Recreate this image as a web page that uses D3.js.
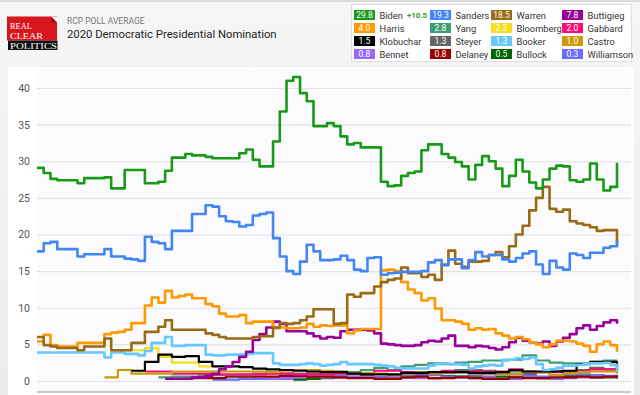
<!DOCTYPE html>
<html>
<head>
<meta charset="utf-8">
<script src="https://cdn.jsdelivr.net/npm/d3@7"></script>
<style>
	body { margin: 0; width: 640px; height: 395px; overflow: hidden; background: #e9e9e9; font-family: Roboto, Arial, sans-serif; }
	svg { display: block; }
</style>
</head>
<body>
<svg id="chart" width="640" height="395"></svg>
<script>
'use strict'

// RCP average, one value every 4 days from 15 Dec 2018 (majors)
var biden = [29.1,28.4,27.6,27.4,27.4,27.4,27.0,27.7,27.7,27.7,
	27.8,26.3,26.3,28.8,28.8,28.8,27.0,27.0,27.2,28.7,
	30.5,30.5,31.0,30.8,30.8,30.6,30.4,30.4,30.4,30.4,
	31.1,31.6,30.2,29.3,29.3,32.7,36.8,41.0,41.5,39.3,
	38.2,34.8,34.8,35.2,34.8,33.4,32.3,32.5,31.9,31.9,
	31.9,27.2,26.6,26.7,28.0,28.4,28.6,31.5,32.3,32.3,
	31.0,30.5,29.9,29.3,27.5,29.5,30.7,30.0,29.0,26.6,
	28.0,30.2,28.6,27.1,26.3,27.5,29.0,29.4,29.3,27.4,
	27.2,27.5,29.7,27.5,26.0,26.5,29.8];
var sanders = [17.7,18.8,19.0,18.0,18.0,18.0,17.0,17.3,17.3,17.3,
	18.0,17.0,17.0,16.7,16.6,16.4,19.7,19.0,18.8,18.0,
	20.5,20.5,20.5,22.8,22.8,24.0,23.8,22.5,21.8,21.7,
	21.1,21.3,22.6,22.8,23.0,19.5,17.0,15.0,14.6,16.3,
	18.6,17.7,16.5,16.5,16.6,17.1,16.5,15.2,15.0,16.8,
	16.9,14.5,14.7,14.8,14.9,14.9,14.9,15.0,16.2,16.5,
	15.8,16.6,16.6,15.4,16.5,17.6,17.0,17.2,17.2,16.6,
	16.3,16.8,17.4,17.7,15.9,14.6,16.4,15.5,15.2,17.4,
	17.2,16.8,17.5,17.5,18.2,18.4,19.3];
var warren = [6.0,4.9,4.7,4.5,4.5,4.5,4.2,4.7,4.7,4.7,
	5.8,4.2,4.2,4.2,5.2,5.2,6.7,6.7,7.4,8.3,
	7.0,7.0,7.0,7.0,7.0,6.5,6.3,6.0,5.8,5.8,
	5.8,5.8,6.0,6.1,6.1,7.3,7.9,7.8,7.9,8.3,
	8.8,9.8,9.8,9.8,7.8,7.9,11.8,11.5,12.0,12.0,
	12.9,13.5,13.8,14.0,15.5,14.7,14.7,14.2,14.5,13.8,
	15.9,17.8,16.0,15.6,16.3,16.3,16.4,17.2,17.6,16.9,
	18.4,20.0,21.2,23.3,25.0,26.5,23.5,23.1,23.4,21.8,
	21.5,21.3,21.0,20.5,20.6,20.6,18.5];
var harris = [5.4,6.3,4.9,4.7,4.7,4.7,5.2,5.2,5.2,5.2,
	6.4,6.6,6.7,7.0,7.9,7.9,10.3,11.4,10.7,12.3,
	11.4,11.6,11.8,11.3,11.3,10.5,10.2,9.2,8.8,8.8,
	9.0,7.9,8.1,8.1,8.1,7.2,7.3,7.2,7.2,7.3,
	7.8,7.4,7.6,7.5,7.6,7.6,6.5,6.9,7.1,7.1,
	7.1,15.1,15.2,15.0,13.5,12.5,12.0,11.0,11.3,9.9,
	8.3,8.3,8.1,7.8,7.0,7.2,7.0,7.1,6.5,6.2,
	5.8,6.0,5.7,5.3,5.0,4.6,5.0,5.5,5.5,5.4,
	5.1,4.8,4.0,5.0,5.4,4.9,4.0];
var booker = [3.9,3.9,3.9,3.9,3.9,3.9,3.9,3.9,3.9,3.9,
	3.2,3.9,3.9,3.7,3.7,3.5,4.1,5.2,5.2,6.0,
	4.8,4.8,4.9,4.9,4.9,3.6,3.5,3.5,3.6,3.6,
	3.6,3.7,3.8,3.8,3.8,2.4,2.2,2.2,2.2,2.3,
	2.4,2.3,2.1,2.2,2.3,2.6,2.3,2.3,2.3,2.3,
	2.2,2.1,2.0,1.8,1.7,1.7,1.7,1.7,2.1,2.3,
	2.4,2.3,2.3,2.2,1.7,2.0,2.1,2.2,2.1,2.9,
	2.9,3.1,3.0,3.2,2.3,1.5,1.6,1.8,2.1,2.1,
	2.2,2.3,2.4,2.4,2.5,2.2,1.3];
// starts at day 76
var buttigieg = [0.3,0.3,0.3,0.3,0.5,0.5,0.7,1.0,1.6,2.0,
	2.6,3.3,4.0,5.6,6.4,7.3,8.1,7.8,6.8,6.8,
	6.8,6.5,6.1,5.8,6.0,5.9,6.8,7.0,7.0,7.0,
	6.9,6.5,5.1,5.0,4.9,4.8,4.8,4.9,5.3,5.5,
	5.4,5.8,6.2,4.8,4.8,4.6,4.8,4.7,4.5,4.3,
	4.6,5.3,5.9,5.5,5.3,5.1,5.4,4.8,5.4,5.9,
	6.4,7.2,7.6,7.0,7.5,8.0,8.3,7.8];

// minors, one value every 8 days
var klobuchar = [1.4,2.6,3.6,3.3,3.4,2.6,2.0,2.0,1.9,1.7,
	1.6,1.5,1.4,1.3,1.2,1.2,1.0,0.9,0.9,0.9,
	1.1,1.1,1.2,1.2,1.2,1.1,1.1,1.2,1.5,1.3,
	1.3,1.3,1.4,2.3,2.6,2.6,1.5];
var castro = [0.5,1.5,1.0,1.0,1.0,1.3,1.3,1.3,1.3,1.3,
	1.3,1.3,1.2,1.4,1.5,1.5,1.4,1.3,1.0,1.1,
	1.0,0.8,1.0,1.2,1.0,1.1,1.2,1.0,1.0,1.0,
	0.9,1.3,1.2,0.8,1.0,1.2,1.3,1.3,1.0];
var bloomberg = [4.2,4.5,3.3,2.5,2.5,2.0,2.0,
	null,null,null,null,null,null,null,null,null,null,
	null,null,null,null,null,null,null,null,null,null,
	null,null,null,null,null,null,null,null,
	2.5,2.3];
var gabbard = [1.3,1.3,1.0,1.0,1.0,0.9,0.9,0.9,0.9,1.0,
	1.0,0.9,0.9,0.9,1.0,1.0,1.0,1.4,1.4,1.2,
	1.2,1.0,1.4,1.2,1.3,1.2,1.3,1.6,1.3,1.2,
	1.2,1.3,1.3,1.6,1.6,2.0];
var yang = [0.5,0.6,0.6,0.8,0.8,0.8,0.8,1.0,1.0,1.0,
	1.0,1.0,1.2,1.3,1.2,1.5,1.8,1.5,2.0,2.2,
	2.4,2.3,2.5,2.6,2.8,2.8,2.9,3.5,2.8,2.5,
	2.4,2.4,2.6,2.8,2.8];
var steyer = [0.8,1.0,1.0,1.2,1.3,1.5,1.5,1.4,1.2,1.3,1.0,1.2,1.4,1.3,1.5,1.8,1.6,1.3];
var delaney = [0.4,0.4,0.4,0.6,0.6,0.6,0.6,0.7,0.7,0.6,
	0.6,0.5,0.4,0.4,0.3,0.3,0.5,0.6,0.4,0.4,
	0.5,0.4,0.3,0.3,0.5,0.4,0.4,0.5,0.5,0.6,
	0.5,0.6,0.8];
var bennet = [0.3,0.4,0.5,0.6,0.5,0.5,0.6,0.6,0.5,0.4,
	0.5,0.4,0.4,0.5,0.5,0.4,0.5,0.3,0.3,0.5,
	0.4,0.3,0.4,0.5,0.6,0.6,0.8];
var bullock = [0.2,0.3,0.4,0.5,0.5,0.6,0.5,0.4,0.5,0.5,
	0.4,0.6,0.6,0.5,0.5,0.6,0.5,0.5,0.4,0.4,
	0.6,0.6,0.5,0.5,0.5];
var williamson = [0.2,0.2,0.3,0.3,0.3,0.3,0.4,0.5,0.6,0.7,
	0.6,0.6,0.5,0.5,0.7,0.8,0.8,0.7,0.6,0.8,
	0.9,1.0,0.9,0.8,0.6,0.6,0.8,0.9,0.8,0.7,0.3];

var legendNames = ["Biden","Sanders","Warren","Buttigieg","Harris","Yang","Bloomberg","Gabbard",
	"Klobuchar","Steyer","Booker","Castro","Bennet","Delaney","Bullock","Williamson"];
var legendValues = ["29.8","19.3","18.5","7.8","4.0","2.8","2.3","2.0","1.5","1.3","1.3","1.0","0.8","0.8","0.5","0.3"];
var spread = "+10.5";
var yTicks = [0,5,10,15,20,25,30,35,40];

var colors = {
	Biden: "#179b17", Sanders: "#4285f4", Warren: "#9a6a12", Buttigieg: "#990099",
	Harris: "#ff9900", Yang: "#3d9f73", Bloomberg: "#f7dc1b", Gabbard: "#ff0a78",
	Klobuchar: "#000000", Steyer: "#666666", Booker: "#66c8ff", Castro: "#cc9a06",
	Bennet: "#9966ff", Delaney: "#990000", Bullock: "#006600", Williamson: "#6a6cff"
};

// name, values, first day, days between values  (drawn bottom-up, Biden last)
var series = [
	["Williamson", williamson, 104, 8], ["Bullock", bullock, 152, 8], ["Bennet", bennet, 136, 8],
	["Delaney", delaney, 88, 8], ["Steyer", steyer, 208, 8], ["Yang", yang, 72, 8],
	["Gabbard", gabbard, 64, 8], ["Castro", castro, 40, 8], ["Bloomberg", bloomberg, 56, 8],
	["Klobuchar", klobuchar, 56, 8], ["Booker", booker, 0, 4], ["Buttigieg", buttigieg, 76, 4],
	["Harris", harris, 0, 4], ["Warren", warren, 0, 4], ["Sanders", sanders, 0, 4], ["Biden", biden, 0, 4]
];

var startDate = new Date(Date.UTC(2018, 11, 15));
var endDate = d3.utcDay.offset(startDate, 344);

var svg = d3.select("#chart");

// header strip
var grad = svg.append("defs").append("linearGradient").attr("id", "hdr").attr("x1", 0).attr("y1", 0).attr("x2", 0).attr("y2", 1);
grad.append("stop").attr("offset", "0%").attr("stop-color", "#f6f6f6");
grad.append("stop").attr("offset", "100%").attr("stop-color", "#ebebeb");
svg.append("rect").attr("x", 0).attr("y", 0).attr("width", 640).attr("height", 395).attr("fill", "url(#hdr)");
svg.append("rect").attr("x", 0).attr("y", 0).attr("width", 640).attr("height", 2).attr("fill", "#dcdcdc");

// logo
var logo = svg.append("g").attr("transform", "translate(7,16.5)");
logo.append("rect").attr("width", 50).attr("height", 24).attr("fill", "#d8161d");
logo.append("rect").attr("x", 1).attr("y", 24).attr("width", 49.5).attr("height", 9.5).attr("fill", "#111");
logo.append("path").attr("d", "M44,0 L50,0 L50,6 Z").attr("fill", "#f2f2f2");
logo.append("path").attr("d", "M44,0 L50,6 L44,6 Z").attr("fill", "#a30d12");
logo.selectAll("text.lg")
	.data([["REAL", 12.5, 22], ["CLEAR", 22, 33], ["POLITICS", 32, 47]])
	.enter().append("text")
	.attr("x", 3)
	.attr("y", function(d){ return d[1]; })
	.attr("font-family", "'Liberation Serif', 'DejaVu Serif', serif")
	.attr("font-size", 8.6)
	.attr("textLength", function(d){ return d[2]; })
	.attr("lengthAdjust", "spacingAndGlyphs")
	.attr("fill", "#fff")
	.text(function(d){ return d[0]; });

svg.append("text").attr("x", 67).attr("y", 24)
	.attr("font-size", 8.5).attr("fill", "#777")
	.text("RCP POLL AVERAGE");
svg.append("text").attr("x", 67).attr("y", 37.5)
	.attr("font-size", 11.3).attr("fill", "#222")
	.text("2020 Democratic Presidential Nomination");

// legend box
svg.append("rect").attr("x", 351.5).attr("y", 4.5).attr("width", 280).attr("height", 57)
	.attr("fill", "#fff").attr("stroke", "#dedede");

var colX = [354, 430, 491, 562];
var rowY = [10, 23, 36, 49];
var items = svg.selectAll("g.leg")
	.data(legendNames)
	.enter().append("g")
	.attr("class", "leg")
	.attr("transform", function(d, i){ return "translate(" + colX[i % 4] + "," + rowY[Math.floor(i / 4)] + ")"; });
items.append("rect").attr("width", 21).attr("height", 10)
	.attr("fill", function(d){ return colors[d]; });
items.append("text").attr("x", 10.5).attr("y", 8.2)
	.attr("text-anchor", "middle").attr("font-size", 8.5).attr("fill", "#fff")
	.text(function(d, i){ return legendValues[i]; });
items.append("text").attr("x", 25.5).attr("y", 8.6)
	.attr("font-size", 9.3).attr("fill", "#333")
	.text(function(d){ return d; });
svg.append("text").attr("x", 407).attr("y", 18.3)
	.attr("font-size", 7.8).attr("font-weight", "bold").attr("fill", "#2d9a2d")
	.text(spread);

// chart panel
svg.append("rect").attr("x", 8).attr("y", 67).attr("width", 626).attr("height", 330).attr("fill", "#fff");
svg.append("rect").attr("x", 37).attr("y", 70).attr("width", 594).attr("height", 322).attr("fill", "#fbfbfe");

var x = d3.scaleUtc().domain([startDate, endDate]).range([37, 617]);
var y = d3.scaleLinear().domain([0, 40]).range([381, 88]);

var grid = svg.append("g")
	.attr("transform", "translate(37,0)")
	.call(d3.axisLeft(y).tickValues(yTicks).tickSize(-594).tickFormat(""));
grid.select(".domain").remove();
grid.selectAll("line").attr("stroke", "#e1e1e1").attr("stroke-width", 1.2);

var yAxis = svg.append("g")
	.attr("transform", "translate(37,0)")
	.call(d3.axisLeft(y).tickValues(yTicks).tickSize(0).tickPadding(7));
yAxis.select(".domain").remove();
yAxis.selectAll("text").attr("font-size", 10.5).attr("fill", "#555").attr("font-family", "Roboto, Arial, sans-serif");

svg.append("line").attr("x1", 37).attr("x2", 631).attr("y1", 392).attr("y2", 392)
	.attr("stroke", "#c8c8c8").attr("stroke-width", 2);

var line = d3.line()
	.defined(function(d){ return d.v !== null; })
	.x(function(d){ return x(d.date); })
	.y(function(d){ return y(d.v); })
	.curve(d3.curveStepAfter);

series.forEach(function(s){
	var pts = s[1].map(function(v, k){
		return {date: d3.utcDay.offset(startDate, s[2] + k * s[3]), v: v};
	});
	svg.append("path")
		.datum(pts)
		.attr("fill", "none")
		.attr("stroke", colors[s[0]])
		.attr("stroke-width", s[3] === 4 ? 2.6 : 2.2)
		.attr("stroke-linejoin", "round")
		.attr("d", line);
});
</script>
</body>
</html>
